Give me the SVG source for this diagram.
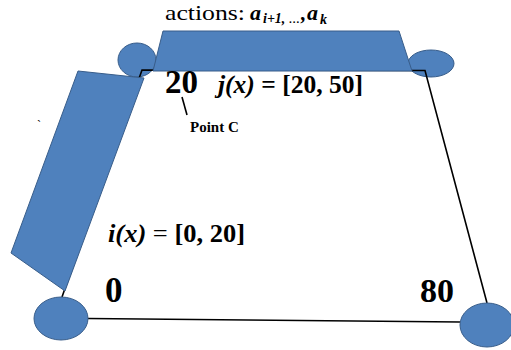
<svg xmlns="http://www.w3.org/2000/svg" width="511" height="350" viewBox="0 0 511 350">
  <style>
    .shape { fill: #4F81BD; stroke: #385D8A; stroke-width: 1; }
    .edge { fill: none; stroke: #000; stroke-width: 1.6; }
    text { font-family: 'Liberation Serif', 'DejaVu Serif', 'Noto Serif', serif; fill: #000; }
    .b { font-weight: bold; }
    .bi { font-weight: bold; font-style: italic; }
  </style>
  <rect width="511" height="350" fill="#fff"/>
  <g id="node-top-left"><ellipse class="shape" cx="137" cy="60" rx="19" ry="17"/></g>
  <g id="node-top-right"><ellipse class="shape" cx="431" cy="63.5" rx="23" ry="13.5"/></g>
  <g id="connectors">
    <path class="edge" d="M62,297 L142,70 L425,70.5 L487,303"/>
    <path class="edge" d="M88,318.5 L460,322" stroke-width="2"/>
    <path class="edge" d="M182,97 L187,115"/>
  </g>
  <g id="node-bottom-left"><ellipse class="shape" cx="61" cy="318.5" rx="27" ry="21.5"/></g>
  <g id="node-bottom-right"><ellipse class="shape" cx="487" cy="325" rx="27" ry="22"/></g>
  <g id="actions-bar"><polygon class="shape" points="163,31 399,31 412,71 153,71"/></g>
  <g id="left-bar"><polygon class="shape" points="78,71 144,78 65,291 11,253"/></g>
  <g id="labels">
    <text x="165" y="20" font-size="22" textLength="80" lengthAdjust="spacingAndGlyphs">actions:</text>
    <text class="bi" y="20" font-size="22"><tspan x="250">a</tspan><tspan x="263" y="23" font-size="14">i+1,</tspan><tspan x="289" y="23" font-size="11">…</tspan><tspan x="301" y="20" font-size="21">,</tspan><tspan x="307" y="20" font-size="22">a</tspan><tspan x="320" y="24" font-size="14">k</tspan></text>
    <text class="b" x="165" y="93" font-size="33">20</text>
    <text class="b" x="218" y="93" font-size="25" textLength="145" lengthAdjust="spacingAndGlyphs"><tspan class="bi">j(x)</tspan> = [20, 50]</text>
    <text class="b" x="190" y="132" font-size="15">Point C</text>
    <text class="b" x="108" y="242" font-size="25" textLength="137" lengthAdjust="spacingAndGlyphs"><tspan class="bi">i(x)</tspan><tspan font-weight="normal"> = </tspan>[0, 20]</text>
    <text class="b" x="105" y="302" font-size="35">0</text>
    <text class="b" x="420" y="302" font-size="34">80</text>
    <text x="37" y="129" font-size="12">`</text>
  </g>
</svg>
